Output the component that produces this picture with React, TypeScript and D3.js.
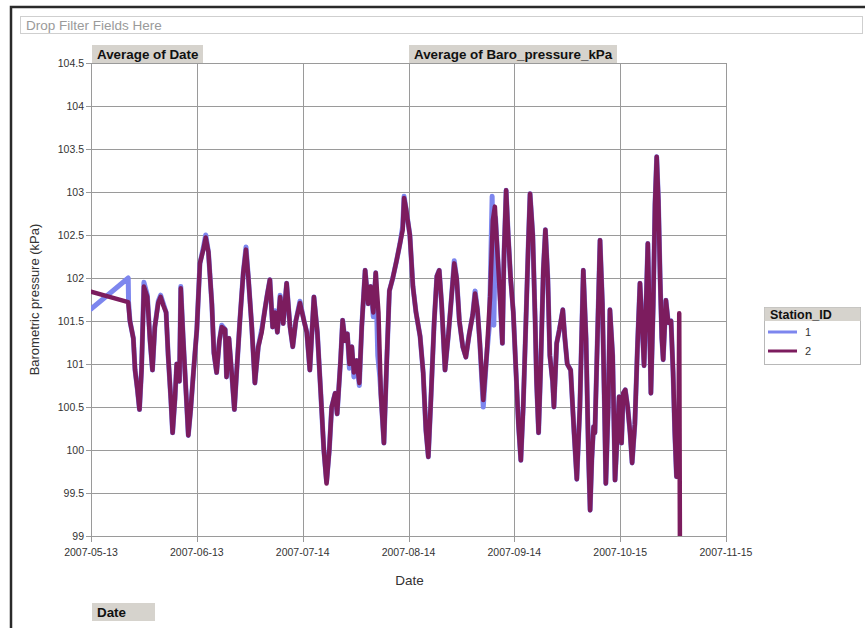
import React, { useRef, useEffect } from 'react'
import * as d3 from 'd3'

const dateTicks = ['2007-05-13', '2007-06-13', '2007-07-14', '2007-08-14', '2007-09-14', '2007-10-15', '2007-11-15']
const pressureTicks = [99, 99.5, 100, 100.5, 101, 101.5, 102, 102.5, 103, 103.5, 104, 104.5]
const stations = ['1', '2']
const stationColors = ['#7d86ee', '#7c1c5e']

// [days since 2007-05-13, kPa]
const station1: [number, number][] = [
  [0, 101.64], [10.9, 102.0], [11.0, 101.72], [11.4, 101.5], [12.4, 101.3], [12.9, 100.93], [13.6, 100.7], [14.2, 100.47],
  [14.8, 100.93], [15.5, 101.95], [16.5, 101.8], [17.3, 101.27], [18.0, 100.93], [18.7, 101.43], [19.7, 101.73], [20.4, 101.8],
  [21.2, 101.7], [22.0, 101.6], [22.6, 101.1], [23.4, 100.58], [23.9, 100.2], [24.6, 100.6], [25.1, 101.0], [25.9, 100.8],
  [26.3, 101.9], [27.0, 101.3], [27.8, 100.7], [28.5, 100.17], [29.2, 100.47], [30.0, 100.9], [31.0, 101.4], [31.9, 102.17],
  [32.9, 102.35], [33.6, 102.5], [34.4, 102.3], [35.4, 101.7], [36.0, 101.13], [36.8, 100.9], [37.6, 101.27], [38.3, 101.45],
  [39.3, 101.4], [39.7, 100.85], [40.4, 101.3], [41.2, 100.9], [42.0, 100.47], [42.7, 100.93], [43.6, 101.5], [44.6, 102.06],
  [45.4, 102.36], [46.1, 102.0], [47.1, 101.43], [48.0, 100.78], [49.0, 101.2], [50.0, 101.4], [51.0, 101.65], [51.6, 101.8],
  [52.4, 101.98], [53.2, 101.43], [53.9, 101.62], [54.6, 101.37], [55.4, 101.8], [56.3, 101.47], [57.3, 101.94], [58.3, 101.43],
  [59.1, 101.2], [60.0, 101.5], [61.2, 101.73], [62.4, 101.5], [63.2, 101.37], [64.1, 100.93], [65.3, 101.78], [66.3, 101.37],
  [67.3, 100.66], [68.2, 100.0], [69.0, 99.63], [69.8, 100.0], [70.5, 100.5], [71.5, 100.66], [72.1, 100.42], [73.1, 101.04],
  [73.7, 101.51], [74.4, 101.27], [75.1, 101.35], [75.7, 100.95], [76.4, 101.2], [77.0, 100.85], [77.8, 101.04], [78.6, 100.75],
  [79.3, 101.43], [80.3, 102.09], [81.2, 101.7], [81.9, 101.9], [82.7, 101.55], [83.4, 102.06], [84.0, 101.1], [84.6, 100.85],
  [85.8, 100.08], [86.6, 101.0], [87.4, 101.85], [88.4, 102.0], [89.5, 102.2], [90.5, 102.4], [91.3, 102.6], [91.7, 102.95],
  [92.3, 102.8], [93.4, 102.5], [94.3, 101.9], [95.2, 101.6], [96.4, 101.32], [97.3, 100.9], [98.1, 100.23], [98.8, 99.92],
  [99.5, 100.53], [100.5, 101.47], [101.3, 102.02], [102.0, 102.09], [102.7, 101.7], [103.7, 100.93], [104.7, 101.35], [105.6, 101.78],
  [106.4, 102.2], [107.1, 102.0], [107.9, 101.5], [108.9, 101.2], [109.8, 101.08], [110.8, 101.35], [111.8, 101.57], [112.5, 101.85],
  [113.2, 101.63], [113.9, 101.24], [114.9, 100.5], [115.9, 101.1], [116.7, 101.45], [117.5, 102.95], [118.0, 101.45], [118.5, 102.7],
  [119.0, 102.33], [119.8, 101.78], [120.5, 101.24], [121.0, 102.3], [121.6, 103.02], [122.2, 102.5], [122.9, 102.0], [123.7, 101.6],
  [124.5, 100.9], [125.2, 100.3], [125.9, 99.88], [126.6, 100.5], [127.4, 101.5], [128.1, 102.4], [128.6, 102.98], [129.4, 102.5],
  [130.1, 101.5], [130.5, 100.8], [131.1, 100.2], [131.7, 100.93], [132.5, 102.1], [133.1, 102.56], [133.8, 102.0], [134.4, 101.1],
  [135.2, 100.8], [135.6, 100.5], [136.4, 101.24], [137.2, 101.4], [138.2, 101.63], [138.8, 101.3], [139.5, 101.0], [140.5, 100.93],
  [141.5, 100.2], [142.3, 99.66], [143.2, 100.5], [144.2, 102.09], [145.0, 101.3], [145.7, 99.97], [146.2, 99.3], [146.7, 99.9],
  [147.2, 100.27], [147.6, 100.2], [148.3, 101.24], [149.1, 102.44], [149.8, 101.7], [150.4, 100.5], [150.8, 99.61], [151.5, 100.5],
  [152.0, 101.63], [152.8, 101.1], [153.5, 99.65], [154.2, 100.2], [154.7, 100.62], [155.4, 100.08], [155.9, 100.66], [156.5, 100.7],
  [157.2, 100.5], [157.9, 100.2], [158.5, 99.85], [159.3, 100.3], [160.1, 101.24], [160.8, 101.94], [161.5, 101.4], [162.0, 100.98],
  [162.6, 101.7], [163.1, 102.4], [163.5, 101.7], [164.0, 100.66], [164.7, 101.7], [165.2, 102.85], [165.7, 103.41], [166.2, 102.9],
  [166.7, 102.0], [167.2, 101.3], [167.6, 101.05], [168.4, 101.74], [169.1, 101.48], [169.9, 101.5], [170.5, 100.9], [171.0, 100.2],
  [171.5, 99.69],
]

const station2: [number, number][] = [
  [0, 101.84], [10.9, 101.72], [11.4, 101.5], [12.4, 101.3], [12.9, 100.93], [13.6, 100.7], [14.2, 100.47],
  [14.8, 100.93], [15.5, 101.9], [16.5, 101.78], [17.3, 101.27], [18.0, 100.93], [18.7, 101.43], [19.7, 101.71], [20.4, 101.78],
  [21.2, 101.68], [22.0, 101.6], [22.6, 101.1], [23.4, 100.58], [23.9, 100.2], [24.6, 100.6], [25.1, 101.0], [25.9, 100.8],
  [26.3, 101.88], [27.0, 101.3], [27.8, 100.7], [28.5, 100.17], [29.2, 100.47], [30.0, 100.9], [31.0, 101.4], [31.9, 102.17],
  [32.9, 102.33], [33.6, 102.47], [34.4, 102.3], [35.4, 101.7], [36.0, 101.13], [36.8, 100.9], [37.6, 101.27], [38.3, 101.43],
  [39.3, 101.4], [39.7, 100.85], [40.4, 101.3], [41.2, 100.9], [42.0, 100.47], [42.7, 100.93], [43.6, 101.5], [44.6, 102.06],
  [45.4, 102.33], [46.1, 102.0], [47.1, 101.43], [48.0, 100.78], [49.0, 101.2], [50.0, 101.37], [51.0, 101.65], [51.6, 101.8],
  [52.4, 101.98], [53.2, 101.43], [53.9, 101.6], [54.6, 101.37], [55.4, 101.78], [56.3, 101.47], [57.3, 101.94], [58.3, 101.43],
  [59.1, 101.2], [60.0, 101.5], [61.2, 101.71], [62.4, 101.5], [63.2, 101.37], [64.1, 100.93], [65.3, 101.78], [66.3, 101.37],
  [67.3, 100.66], [68.2, 100.0], [69.0, 99.61], [69.8, 100.0], [70.5, 100.5], [71.5, 100.66], [72.1, 100.42], [73.1, 101.04],
  [73.7, 101.51], [74.4, 101.27], [75.1, 101.35], [75.7, 101.0], [76.4, 101.2], [77.0, 100.9], [77.8, 101.04], [78.6, 100.78],
  [79.3, 101.43], [80.3, 102.09], [81.2, 101.7], [81.9, 101.9], [82.7, 101.6], [83.4, 102.06], [84.2, 101.6], [84.9, 100.66],
  [85.8, 100.08], [86.6, 101.0], [87.4, 101.85], [88.4, 102.0], [89.5, 102.2], [90.5, 102.4], [91.3, 102.56], [91.7, 102.93],
  [92.3, 102.8], [93.4, 102.5], [94.3, 101.9], [95.2, 101.6], [96.4, 101.32], [97.3, 100.9], [98.1, 100.23], [98.8, 99.92],
  [99.5, 100.53], [100.5, 101.47], [101.3, 102.02], [102.0, 102.09], [102.7, 101.7], [103.7, 100.93], [104.7, 101.35], [105.6, 101.78],
  [106.4, 102.17], [107.1, 102.0], [107.9, 101.5], [108.9, 101.2], [109.8, 101.08], [110.8, 101.35], [111.8, 101.57], [112.5, 101.82],
  [113.2, 101.63], [113.9, 101.24], [114.9, 100.58], [115.9, 101.1], [116.9, 101.78], [117.7, 102.67], [118.3, 102.83], [119.0, 102.33],
  [119.8, 101.78], [120.5, 101.24], [121.0, 102.3], [121.6, 103.02], [122.2, 102.5], [122.9, 102.0], [123.7, 101.6],
  [124.5, 100.9], [125.2, 100.3], [125.9, 99.88], [126.6, 100.5], [127.4, 101.5], [128.1, 102.4], [128.6, 102.98], [129.4, 102.5],
  [130.1, 101.5], [130.5, 100.8], [131.1, 100.2], [131.7, 100.93], [132.5, 102.1], [133.1, 102.56], [133.8, 102.0], [134.4, 101.1],
  [135.2, 100.8], [135.6, 100.5], [136.4, 101.24], [137.2, 101.4], [138.2, 101.63], [138.8, 101.3], [139.5, 101.0], [140.5, 100.93],
  [141.5, 100.2], [142.3, 99.66], [143.2, 100.5], [144.2, 102.09], [145.0, 101.3], [145.7, 99.97], [146.2, 99.3], [146.7, 99.9],
  [147.2, 100.27], [147.6, 100.2], [148.3, 101.24], [149.1, 102.44], [149.8, 101.7], [150.4, 100.5], [150.8, 99.61], [151.5, 100.5],
  [152.0, 101.63], [152.8, 101.1], [153.5, 99.65], [154.2, 100.2], [154.7, 100.62], [155.4, 100.08], [155.9, 100.66], [156.5, 100.7],
  [157.2, 100.5], [157.9, 100.2], [158.5, 99.85], [159.3, 100.3], [160.1, 101.24], [160.8, 101.94], [161.5, 101.4], [162.0, 100.98],
  [162.6, 101.7], [163.1, 102.4], [163.5, 101.7], [164.0, 100.66], [164.7, 101.7], [165.2, 102.85], [165.7, 103.41], [166.2, 102.9],
  [166.7, 102.0], [167.2, 101.3], [167.6, 101.05], [168.4, 101.74], [169.1, 101.48], [169.9, 101.5], [170.5, 100.9], [171.0, 100.2],
  [171.5, 99.69], [172.0, 99.69], [172.3, 101.59], [172.5, 98.9],
]

const FONT = '"Liberation Sans", Arial, sans-serif'

export default function App() {
  const svgRef = useRef<SVGSVGElement>(null)
  const width = 865
  const height = 628

  useEffect(() => {
    if (!svgRef.current) return
    const svg = d3.select(svgRef.current)
    svg.selectAll('*').remove()

    const plot = { left: 91, right: 726, top: 63, bottom: 536 }
    const parse = d3.utcParse('%Y-%m-%d')
    const tickDates = dateTicks.map(d => parse(d) as Date)
    const start = tickDates[0]

    const x = d3.scaleUtc()
      .domain([tickDates[0], tickDates[tickDates.length - 1]])
      .range([plot.left, plot.right])
    const y = d3.scaleLinear()
      .domain([99, 104.5])
      .range([plot.bottom, plot.top])

    const toDate = (day: number) => new Date(start.getTime() + day * 864e5)

    // page background + frame
    svg.append('rect').attr('width', width).attr('height', height).attr('fill', '#fff')
    svg.append('path')
      .attr('d', `M 11 ${height} L 11 7 L ${width} 7`)
      .attr('fill', 'none')
      .attr('stroke', '#2a2a2a')
      .attr('stroke-width', 2.5)

    // filter drop zone
    svg.append('rect')
      .attr('x', 20.5).attr('y', 16.5).attr('width', 842).attr('height', 17)
      .attr('fill', '#fff').attr('stroke', '#cfcfcf')
    svg.append('text')
      .attr('x', 26).attr('y', 30)
      .attr('font-family', FONT).attr('font-size', 13.5).attr('fill', '#9a9a9a')
      .text('Drop Filter Fields Here')

    // field buttons
    const button = (bx: number, by: number, bw: number, label: string) => {
      svg.append('rect')
        .attr('x', bx).attr('y', by).attr('width', bw).attr('height', 18)
        .attr('fill', '#d6d3cd')
      svg.append('text')
        .attr('x', bx + 5).attr('y', by + 14)
        .attr('font-family', FONT).attr('font-size', 13.4).attr('font-weight', 'bold').attr('fill', '#111')
        .text(label)
    }
    button(92, 45, 111, 'Average of Date')
    button(409, 45, 208, 'Average of Baro_pressure_kPa')
    button(92, 603, 63, 'Date')

    // grid
    svg.append('g')
      .selectAll('line')
      .data(pressureTicks)
      .join('line')
      .attr('x1', plot.left - 5).attr('x2', plot.right)
      .attr('y1', d => Math.round(y(d)) + 0.5).attr('y2', d => Math.round(y(d)) + 0.5)
      .attr('stroke', '#9a9a9a').attr('stroke-width', 1)

    svg.append('g')
      .selectAll('line')
      .data(tickDates)
      .join('line')
      .attr('x1', d => Math.round(x(d)) + 0.5).attr('x2', d => Math.round(x(d)) + 0.5)
      .attr('y1', plot.top).attr('y2', plot.bottom + 6)
      .attr('stroke', '#9a9a9a').attr('stroke-width', 1)

    // tick labels
    svg.append('g')
      .selectAll('text')
      .data(pressureTicks)
      .join('text')
      .attr('x', plot.left - 7)
      .attr('y', d => y(d) + 4)
      .attr('text-anchor', 'end')
      .attr('font-family', FONT).attr('font-size', 10.5).attr('fill', '#333')
      .text(d => String(d))

    svg.append('g')
      .selectAll('text')
      .data(tickDates)
      .join('text')
      .attr('x', d => x(d))
      .attr('y', plot.bottom + 20)
      .attr('text-anchor', 'middle')
      .attr('font-family', FONT).attr('font-size', 10.5).attr('fill', '#333')
      .text(d => d3.utcFormat('%Y-%m-%d')(d))

    // axis titles
    svg.append('text')
      .attr('x', (plot.left + plot.right) / 2 + 1)
      .attr('y', 585)
      .attr('text-anchor', 'middle')
      .attr('font-family', FONT).attr('font-size', 13.5).attr('fill', '#333')
      .text('Date')

    svg.append('text')
      .attr('transform', `translate(39, ${(plot.top + plot.bottom) / 2}) rotate(-90)`)
      .attr('text-anchor', 'middle')
      .attr('font-family', FONT).attr('font-size', 13).attr('fill', '#333')
      .text('Barometric pressure (kPa)')

    // series
    svg.append('defs').append('clipPath').attr('id', 'plot-clip')
      .append('rect')
      .attr('x', plot.left).attr('y', plot.top - 3)
      .attr('width', plot.right - plot.left).attr('height', plot.bottom - plot.top + 3)

    const line = d3.line<[number, number]>()
      .x(d => x(toDate(d[0])))
      .y(d => y(d[1]))

    const series = [station1, station2]
    const widths = [5, 4.5]
    svg.append('g')
      .attr('clip-path', 'url(#plot-clip)')
      .selectAll('path')
      .data(series)
      .join('path')
      .attr('d', d => line(d))
      .attr('fill', 'none')
      .attr('stroke', (_, i) => stationColors[i])
      .attr('stroke-width', (_, i) => widths[i])
      .attr('stroke-linejoin', 'round')
      .attr('stroke-linecap', 'round')

    // legend
    const lg = svg.append('g').attr('transform', 'translate(764, 307)')
    lg.append('rect')
      .attr('x', 0.5).attr('y', 0.5).attr('width', 96).attr('height', 57)
      .attr('fill', '#fff').attr('stroke', '#b8b8b8')
    lg.append('rect')
      .attr('x', 0.5).attr('y', 0.5).attr('width', 96).attr('height', 13.5)
      .attr('fill', '#d6d3cd')
    lg.append('text')
      .attr('x', 6).attr('y', 12)
      .attr('font-family', FONT).attr('font-size', 12.5).attr('font-weight', 'bold').attr('fill', '#111')
      .text('Station_ID')
    stations.forEach((s, i) => {
      const ly = 25 + i * 19
      lg.append('line')
        .attr('x1', 4).attr('x2', 33).attr('y1', ly).attr('y2', ly)
        .attr('stroke', stationColors[i]).attr('stroke-width', 3)
      lg.append('text')
        .attr('x', 41).attr('y', ly + 4)
        .attr('font-family', FONT).attr('font-size', 11).attr('fill', '#333')
        .text(s)
    })
  }, [])

  return (
    <svg
      ref={svgRef}
      width={width}
      height={height}
      style={{ position: 'absolute', left: 0, top: 0, display: 'block' }}
    />
  )
}
